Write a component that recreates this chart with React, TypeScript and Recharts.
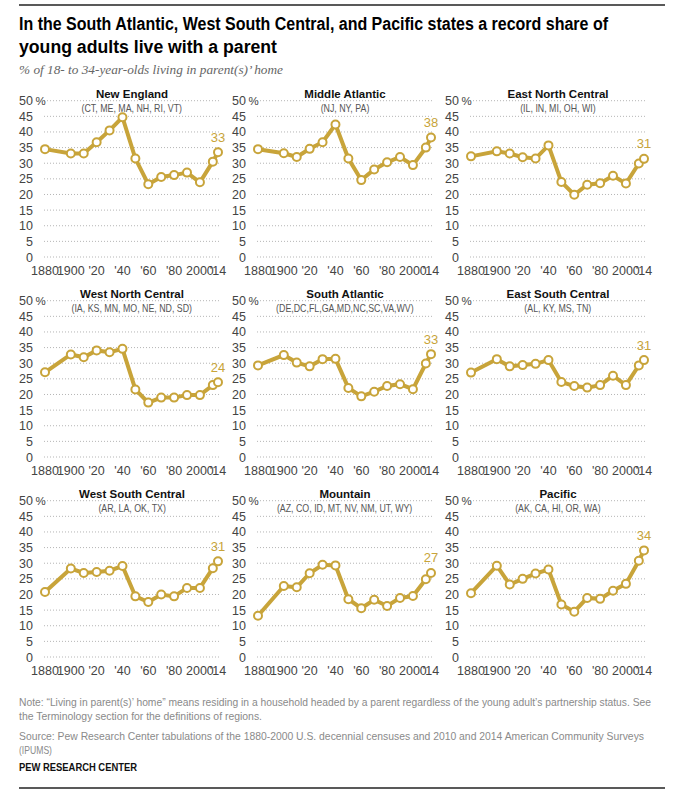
import React from 'react';
import { LineChart, Line, XAxis, YAxis, CartesianGrid, LabelList } from 'recharts';

const years = [1880, 1900, 1910, 1920, 1930, 1940, 1950, 1960, 1970, 1980, 1990, 2000, 2010, 2014];
const xTicks = [1880, 1900, 1920, 1940, 1960, 1980, 2000, 2014];
const xTickLabels = ['1880', '1900', "'20", "'40", "'60", "'80", '2000', "'14"];
const yTicks = [0, 5, 10, 15, 20, 25, 30, 35, 40, 45, 50];

const regionNames = ['New England', 'Middle Atlantic', 'East North Central', 'West North Central', 'South Atlantic', 'East South Central', 'West South Central', 'Mountain', 'Pacific'];
const regionStates = ['(CT, ME, MA, NH, RI, VT)', '(NJ, NY, PA)', '(IL, IN, MI, OH, WI)', '(IA, KS, MN, MO, NE, ND, SD)', '(DE,DC,FL,GA,MD,NC,SC,VA,WV)', '(AL, KY, MS, TN)', '(AR, LA, OK, TX)', '(AZ, CO, ID, MT, NV, NM, UT, WY)', '(AK, CA, HI, OR, WA)'];

const newEngland = [34.5, 33.1, 33.1, 36.7, 40.5, 44.7, 31.5, 23.3, 25.6, 26.2, 27.0, 23.9, 30.5, 33.5];
const middleAtlantic = [34.5, 33.2, 32.0, 34.6, 36.7, 42.4, 31.5, 24.6, 28.0, 30.3, 32.0, 29.4, 35.0, 38.2];
const eastNorthCentral = [32.2, 33.8, 33.1, 31.9, 31.5, 35.7, 24.0, 19.9, 23.1, 23.6, 26.0, 23.5, 29.9, 31.4];
const westNorthCentral = [27.1, 32.8, 31.9, 34.1, 33.5, 34.6, 21.6, 17.4, 19.0, 19.0, 19.8, 19.8, 23.0, 23.9];
const southAtlantic = [29.3, 32.6, 30.2, 29.0, 31.3, 31.4, 22.1, 19.4, 20.9, 22.7, 23.3, 21.7, 29.9, 32.9];
const eastSouthCentral = [27.0, 31.3, 29.0, 29.4, 29.8, 31.0, 24.0, 22.7, 22.2, 23.0, 26.0, 23.0, 29.3, 31.0];
const westSouthCentral = [20.8, 28.3, 26.9, 27.2, 27.6, 29.1, 19.4, 17.6, 20.0, 19.4, 22.1, 22.1, 28.4, 30.6];
const mountain = [13.2, 22.7, 22.3, 26.8, 29.5, 29.3, 18.5, 15.6, 18.3, 16.3, 18.9, 19.5, 24.9, 26.9];
const pacific = [20.4, 29.2, 23.2, 25.0, 26.7, 28.0, 16.8, 14.5, 18.9, 18.6, 21.2, 23.4, 30.8, 34.1];

const regionValues = [newEngland, middleAtlantic, eastNorthCentral, westNorthCentral, southAtlantic, eastSouthCentral, westSouthCentral, mountain, pacific];
const finalLabels = ['33', '38', '31', '24', '33', '31', '31', '27', '34'];

const GOLD = '#c8a43a';
const SANS = "'Liberation Sans', Arial, sans-serif";
const SERIF = "'Liberation Serif', 'DejaVu Serif', serif";

const XTick = (props: any) => {
  const { x, y, payload } = props;
  const idx = xTicks.indexOf(payload.value);
  return (
    <text x={x} y={y + 18} textAnchor="middle" fontFamily={SANS} fontSize={12.5} fill="#444">
      {idx >= 0 ? xTickLabels[idx] : payload.value}
    </text>
  );
};

const YTick = (props: any) => {
  const { x, y, payload } = props;
  return (
    <g>
      <text x={x - 11} y={y + 4.5} textAnchor="end" fontFamily={SANS} fontSize={12.5} fill="#444">
        {payload.value}
      </text>
      {payload.value === 50 ? (
        <text x={x - 8.5} y={y + 4.5} textAnchor="start" fontFamily={SANS} fontSize={11.5} fill="#444">%</text>
      ) : null}
    </g>
  );
};

function Panel({ idx }: { idx: number }) {
  const col = idx % 3;
  const row = Math.floor(idx / 3);
  const values = regionValues[idx];
  const data = years.map((y, i) => ({ year: y, v: values[i] }));
  const last = data.length - 1;
  const left = 213 * col;
  const top = 85 + 200 * row;
  const renderLabel = (p: any) => {
    if (p.index !== last) return null;
    return (
      <text x={p.x} y={p.y - 10.5} textAnchor="middle" fontFamily={SANS} fontSize={13} fill={GOLD}>
        {finalLabels[idx]}
      </text>
    );
  };
  return (
    <div style={{ position: 'absolute', left, top, width: 228, height: 200 }}>
      <LineChart width={228} height={200} data={data} margin={{ top: 15.7, right: 8, bottom: 8, left: 14 }}>
        <CartesianGrid vertical={false} stroke="#b5b5b5" strokeDasharray="1 2" />
        <XAxis
          dataKey="year"
          type="number"
          domain={[1880, 2014]}
          ticks={xTicks}
          interval={0}
          axisLine={false}
          tickLine={false}
          tickSize={0}
          tickMargin={0}
          height={20}
          padding={{ left: 1, right: 2 }}
          tick={<XTick />}
        />
        <YAxis
          type="number"
          domain={[0, 50]}
          ticks={yTicks}
          interval={0}
          axisLine={false}
          tickLine={false}
          tickSize={0}
          tickMargin={0}
          width={30}
          tick={<YTick />}
        />
        <Line
          dataKey="v"
          stroke={GOLD}
          strokeWidth={4}
          dot={{ r: 4, fill: '#fff', stroke: GOLD, strokeWidth: 2 }}
          activeDot={false}
          isAnimationActive={false}
        >
          <LabelList dataKey="v" content={renderLabel} />
        </Line>
      </LineChart>
      <div style={{ position: 'absolute', left: 32, width: 200, top: 1, textAlign: 'center', fontFamily: SANS, fontWeight: 'bold', fontSize: 11.5, color: '#111', lineHeight: '16px', whiteSpace: 'nowrap' }}>
        {regionNames[idx]}
      </div>
      <div style={{ position: 'absolute', left: 32, width: 200, top: 15, textAlign: 'center', lineHeight: '14px', whiteSpace: 'nowrap' }}>
        <span style={{ display: 'inline-block', fontFamily: SANS, fontSize: 10.5, color: '#555', transform: 'scaleX(0.84)', transformOrigin: 'center' }}>
          {regionStates[idx]}
        </span>
      </div>
    </div>
  );
}

export default function App() {
  return (
    <div style={{ position: 'absolute', left: 0, top: 0, width: 679, height: 803, background: '#fff', overflow: 'hidden' }}>
      <svg style={{ position: 'absolute', left: 0, top: 0 }} width={679} height={85}>
        <line x1={19} x2={665} y1={5} y2={5} stroke="#222" strokeWidth={1.5} />
        <text x={19} y={30} fontFamily={SANS} fontWeight="bold" fontSize={18} fill="#000" textLength={589} lengthAdjust="spacingAndGlyphs">
          In the South Atlantic, West South Central, and Pacific states a record share of
        </text>
        <text x={19} y={52.5} fontFamily={SANS} fontWeight="bold" fontSize={18} fill="#000" textLength={258} lengthAdjust="spacingAndGlyphs">
          young adults live with a parent
        </text>
        <text x={19} y={74} fontFamily={SERIF} fontStyle="italic" fontSize={13} fill="#666" textLength={264} lengthAdjust="spacingAndGlyphs">
          % of 18- to 34-year-olds living in parent(s)’ home
        </text>
      </svg>
      {regionNames.map((_, i) => (
        <Panel key={i} idx={i} />
      ))}
      <svg style={{ position: 'absolute', left: 0, top: 690 }} width={679} height={113}>
        <text x={19} y={16} fontFamily={SANS} fontSize={11.5} fill="#8a8a8a" textLength={632} lengthAdjust="spacingAndGlyphs">
          Note: “Living in parent(s)’ home” means residing in a household headed by a parent regardless of the young adult’s partnership status. See
        </text>
        <text x={19} y={30} fontFamily={SANS} fontSize={11.5} fill="#8a8a8a" textLength={243} lengthAdjust="spacingAndGlyphs">
          the Terminology section for the definitions of regions.
        </text>
        <text x={19} y={50} fontFamily={SANS} fontSize={11.5} fill="#8a8a8a" textLength={625} lengthAdjust="spacingAndGlyphs">
          Source: Pew Research Center tabulations of the 1880-2000 U.S. decennial censuses and 2010 and 2014 American Community Surveys
        </text>
        <text x={19} y={64} fontFamily={SANS} fontSize={11.5} fill="#8a8a8a" textLength={33} lengthAdjust="spacingAndGlyphs">
          (IPUMS)
        </text>
        <text x={19} y={81} fontFamily={SANS} fontSize={11} fontWeight="bold" fill="#111" textLength={118} lengthAdjust="spacingAndGlyphs">
          PEW RESEARCH CENTER
        </text>
        <line x1={19} x2={665} y1={98} y2={98} stroke="#222" strokeWidth={1.5} />
      </svg>
    </div>
  );
}
